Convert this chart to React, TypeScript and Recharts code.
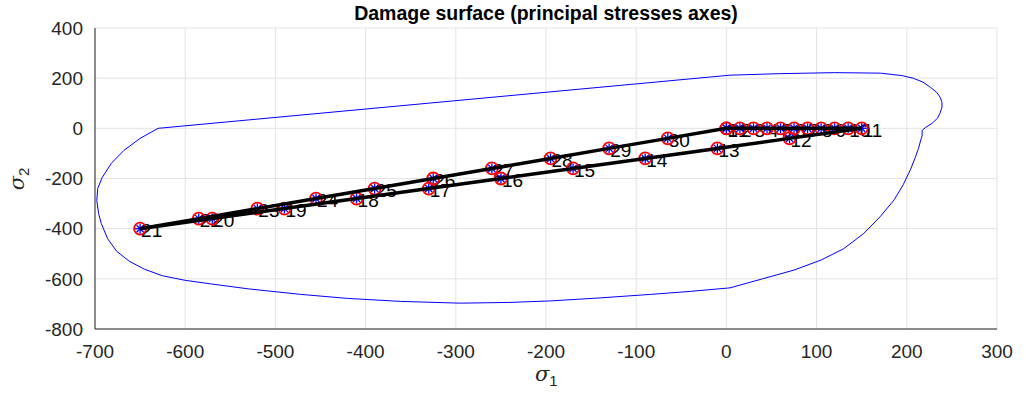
import React from "react";
import { ScatterChart, Scatter, XAxis, YAxis, CartesianGrid } from "recharts";

// Damage surface outline (σ1, σ2)
const surfX = [-630, -650, -668, -682, -692, -697, -698, -696, -693, -686, -676, -662, -645, -625, -600, -572, -530, -472, -420, -361, -295, -240, -195, -140, -84, -40, 4, 40, 75, 105, 130, 152, 171, 186, 196, 204, 209, 213, 216, 217, 217, 221, 228, 234, 237, 239, 239, 237, 233, 226, 218, 207, 195, 171, 120, 60, 4, -630];
const surfY = [0, -40, -88, -140, -196, -240, -288, -340, -380, -440, -490, -530, -562, -588, -606, -620, -640, -662, -678, -690, -697, -694, -688, -676, -662, -650, -636, -600, -565, -525, -480, -420, -350, -285, -225, -165, -120, -80, -40, -30, -8, 4, 20, 40, 62, 84, 104, 124, 144, 164, 184, 200, 210, 220, 222, 218, 212, 0];

// Load path points
const pathX = [0, 15, 30, 45, 60, 75, 90, 105, 120, 135, 150, 70, -10, -90, -170, -250, -330, -410, -490, -570, -650, -585, -520, -455, -390, -325, -260, -195, -130, -65, 0];
const pathY = [0, 0, 0, 0, 0, 0, 0, 0, 0, 0, 0, -40, -80, -120, -160, -200, -240, -280, -320, -360, -400, -360, -320, -280, -240, -200, -160, -120, -80, -40, 0];
const pathLabels = pathX.map((_, i) => String(i + 1));

const xTicks = [-700, -600, -500, -400, -300, -200, -100, 0, 100, 200, 300];
const yTicks = [-800, -600, -400, -200, 0, 200, 400];

const surfData = surfX.map((x, i) => ({ x, y: surfY[i] }));
const pathData = pathX.map((x, i) => ({ x, y: pathY[i], label: pathLabels[i] }));

const FONT = "'Liberation Sans', Arial, Helvetica, sans-serif";

const Marker = (props: any) => {
  const { cx, cy } = props;
  if (cx == null || cy == null) return <g />;
  const r = 6;
  return (
    <g>
      <circle cx={cx} cy={cy} r={r} fill="none" stroke="#ff0000" strokeWidth={1.8} />
      <line x1={cx - 5} y1={cy} x2={cx + 5} y2={cy} stroke="#0000ff" strokeWidth={1.3} />
      <line x1={cx} y1={cy - 5} x2={cx} y2={cy + 5} stroke="#0000ff" strokeWidth={1.3} />
      <line x1={cx - 3.5} y1={cy - 3.5} x2={cx + 3.5} y2={cy + 3.5} stroke="#0000ff" strokeWidth={1.3} />
      <line x1={cx - 3.5} y1={cy + 3.5} x2={cx + 3.5} y2={cy - 3.5} stroke="#0000ff" strokeWidth={1.3} />
    </g>
  );
};

const LabelShape = (props: any) => {
  const { cx, cy, payload } = props;
  if (cx == null || cy == null) return <g />;
  return (
    <text x={cx + 1} y={cy + 2} dominantBaseline="central" fontSize={19} fontFamily={FONT} fill="#000">
      {payload.label}
    </text>
  );
};

export default function App() {
  return (
    <div style={{ position: "absolute", left: 0, top: 0, width: 1026, height: 407, background: "#fff", fontFamily: FONT }}>
      <div style={{ position: "absolute", left: 95, width: 902, top: 2, textAlign: "center", fontSize: 19.5, fontWeight: "bold", color: "#000" }}>
        Damage surface (principal stresses axes)
      </div>
      <ScatterChart width={1026} height={407} margin={{ top: 28, right: 29, bottom: 48, left: 35 }}>
        <CartesianGrid stroke="#e3e3e3" strokeWidth={1} />
        <XAxis
          type="number"
          dataKey="x"
          domain={[-700, 300]}
          ticks={xTicks}
          allowDataOverflow
          height={30}
          tickLine={false}
          tickSize={0}
          tickMargin={16}
          axisLine={{ stroke: "#262626", strokeWidth: 1 }}
          tick={{ fill: "#262626", fontSize: 19, fontFamily: FONT }}
          interval={0}
        />
        <YAxis
          type="number"
          dataKey="y"
          domain={[-800, 400]}
          ticks={yTicks}
          allowDataOverflow
          width={60}
          tickLine={false}
          tickSize={0}
          tickMargin={12}
          axisLine={{ stroke: "#262626", strokeWidth: 1 }}
          tick={{ fill: "#262626", fontSize: 19, fontFamily: FONT }}
          interval={0}
        />
        <Scatter
          data={surfData}
          line={{ stroke: "#0000ff", strokeWidth: 1 }}
          lineJointType="linear"
          shape={() => <g />}
          isAnimationActive={false}
        />
        <Scatter data={pathData} shape={LabelShape} isAnimationActive={false} />
        <Scatter data={pathData} shape={Marker} isAnimationActive={false} />
        <Scatter
          data={pathData}
          line={{ stroke: "#000000", strokeWidth: 3.5 }}
          lineJointType="linear"
          shape={() => <g />}
          isAnimationActive={false}
        />
      </ScatterChart>
      <div style={{ position: "absolute", left: 535, top: 362, fontSize: 21, color: "#262626", fontFamily: "'DejaVu Serif', serif" }}>
        <span style={{ fontStyle: "italic" }}>σ</span>
        <sub style={{ fontSize: 15, fontFamily: FONT }}>1</sub>
      </div>
      <div style={{ position: "absolute", left: 0, top: 164, width: 40, height: 30, transform: "rotate(-90deg)", transformOrigin: "20px 15px", fontSize: 21, color: "#262626", fontFamily: "'DejaVu Serif', serif", textAlign: "center" }}>
        <span style={{ fontStyle: "italic" }}>σ</span>
        <sub style={{ fontSize: 15, fontFamily: FONT }}>2</sub>
      </div>
    </div>
  );
}
